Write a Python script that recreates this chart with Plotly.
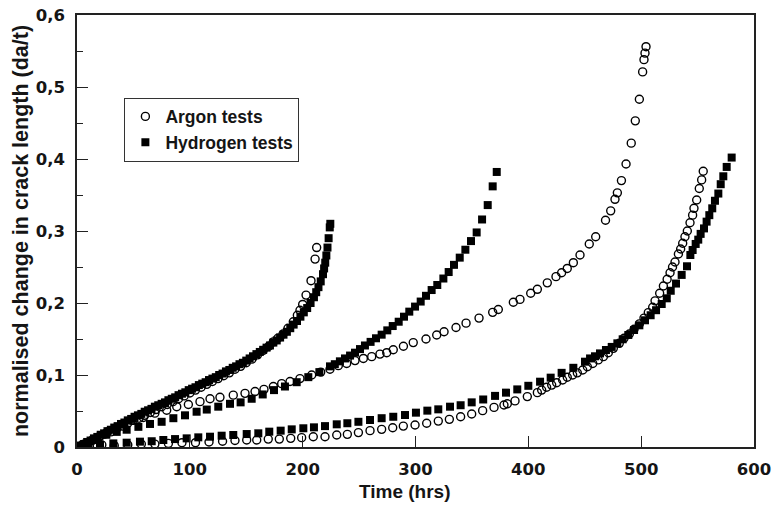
import plotly.graph_objects as go

# ---------------- data ----------------
# Test 1 (fast)
h1_x = [0, 3, 6, 9, 12, 15, 18, 21, 24, 27, 30, 33, 36, 39, 42, 45, 48, 51, 54, 57, 60,
        63, 66, 69, 72, 75, 78, 81, 84, 87, 90, 93, 96, 99, 102, 105, 108, 111, 114, 117,
        120, 123, 126, 129, 132, 135, 138, 141, 144, 147, 150, 153, 156, 159, 162, 165,
        168, 171, 174, 177, 180, 183, 186, 189, 192, 195, 198, 201, 204, 207, 210, 212,
        214, 216, 218, 219, 220, 221, 222, 223, 224, 224.5]
h1_y = [0.000, 0.002, 0.004, 0.007, 0.009, 0.012, 0.014, 0.017, 0.019, 0.022, 0.024,
        0.027, 0.029, 0.032, 0.034, 0.037, 0.039, 0.042, 0.044, 0.046, 0.049, 0.051,
        0.053, 0.056, 0.058, 0.060, 0.062, 0.065, 0.067, 0.069, 0.072, 0.074, 0.076,
        0.079, 0.081, 0.083, 0.086, 0.088, 0.090, 0.093, 0.095, 0.097, 0.100, 0.102,
        0.105, 0.107, 0.110, 0.112, 0.115, 0.117, 0.120, 0.123, 0.126, 0.129, 0.132,
        0.135, 0.138, 0.141, 0.145, 0.148, 0.152, 0.156, 0.160, 0.165, 0.170, 0.175,
        0.181, 0.187, 0.193, 0.200, 0.208, 0.215, 0.222, 0.230, 0.240, 0.248, 0.256,
        0.266, 0.277, 0.290, 0.305, 0.310]

a1_x = [0, 5, 10, 15, 20, 25, 30, 35, 40, 45, 50, 55, 60, 65, 70, 75, 80, 85, 90, 95,
        100, 105, 110, 115, 120, 125, 130, 135, 140, 145, 150, 155, 160, 165, 170, 174,
        178, 182.6, 187, 191.7, 195.3, 197.6, 200, 203, 207.4, 211, 212.4]
a1_y = [0.000, 0.003, 0.006, 0.010, 0.014, 0.018, 0.021, 0.025, 0.029, 0.033, 0.037,
        0.040, 0.044, 0.048, 0.052, 0.056, 0.059, 0.063, 0.067, 0.071, 0.075, 0.079,
        0.083, 0.087, 0.091, 0.095, 0.099, 0.103, 0.108, 0.112, 0.117, 0.122, 0.128,
        0.134, 0.140, 0.146, 0.151, 0.157, 0.165, 0.174, 0.183, 0.190, 0.198, 0.211,
        0.231, 0.261, 0.277]

# Test 2 (middle)
h2_x = [0, 5, 10, 18, 26, 35.2, 44, 54.4, 64.7, 75, 85.4, 95.7, 106, 115, 125.2, 135.6,
        145, 154.8, 164.6, 174.6, 184.3, 194.7, 205, 214.8, 224.2, 228.5, 233, 237.5, 242,
        246.4, 250.8, 255.2, 260.2, 265, 270, 275, 279.8, 285.1, 289.8, 294.5, 299.6,
        304.6, 309.3, 314.3, 319.3, 324.7, 329.4, 334.1, 339.2, 344.2, 349.2, 354.2, 359,
        364, 368.4, 372]
h2_y = [0.000, 0.002, 0.005, 0.011, 0.017, 0.021, 0.024, 0.028, 0.032, 0.035, 0.040,
        0.044, 0.049, 0.052, 0.056, 0.060, 0.062, 0.067, 0.073, 0.079, 0.084, 0.090,
        0.097, 0.104, 0.112, 0.115, 0.119, 0.123, 0.127, 0.131, 0.136, 0.141, 0.146,
        0.151, 0.156, 0.162, 0.168, 0.174, 0.181, 0.188, 0.195, 0.202, 0.210, 0.218,
        0.225, 0.234, 0.243, 0.253, 0.263, 0.274, 0.286, 0.298, 0.316, 0.336, 0.362,
        0.382]

a2_x = [0, 6, 13, 20, 27, 34, 41, 48.5, 58.8, 69, 79.5, 88.4, 98.7, 109, 117.9, 126.7,
        138.5, 148.9, 157.8, 165.7, 174, 181.4, 188.8, 197.6, 208, 216, 224.2, 231.6, 239,
        246.4, 253.8, 261.2, 268.5, 274.5, 280.3, 289.3, 298, 309.3, 318.8, 325.3, 335.9,
        344.8, 356.3, 368.4, 373.4, 386.7, 392.6, 402.1, 408, 416.8, 424.5, 429.5, 434.5,
        439.9, 445.8, 454, 459.7, 468.4, 473, 476.8, 478.9, 482.5, 486.6, 491.2, 494.8,
        498.4, 501.3, 502.5, 503.4, 504.3]
a2_y = [0.000, 0.004, 0.009, 0.015, 0.021, 0.026, 0.032, 0.037, 0.041, 0.047, 0.051,
        0.056, 0.059, 0.063, 0.067, 0.069, 0.072, 0.0745, 0.077, 0.080, 0.084, 0.088,
        0.091, 0.095, 0.100, 0.104, 0.108, 0.113, 0.116, 0.120, 0.123, 0.1255, 0.129,
        0.131, 0.135, 0.140, 0.145, 0.150, 0.1556, 0.160, 0.166, 0.172, 0.179, 0.187,
        0.191, 0.201, 0.205, 0.2135, 0.219, 0.228, 0.2366, 0.242, 0.248, 0.256, 0.2667,
        0.282, 0.292, 0.315, 0.328, 0.344, 0.353, 0.370, 0.393, 0.422, 0.453, 0.483,
        0.521, 0.538, 0.547, 0.556]

# Test 3 (slow)
h3_x = [0, 10, 20.4, 32.2, 44, 55.8, 66.2, 76.5, 86.9, 97.2, 107.5, 117.9, 128.2, 138.5,
        150.4, 160.7, 170.4, 180.5, 190.3, 200.6, 210, 219.8, 230.2, 239.6, 249.4, 259.7,
        270, 280.3, 290.7, 300.4, 310.5, 320.2, 330.6, 340, 349.8, 360, 370.5, 380.2,
        390.2, 400, 410.4, 419.8, 429.5, 439.9, 450.2, 454.7, 459.1, 463.5, 468.8, 473.9,
        478.9, 483.6, 488.6, 493.7, 498.4, 503.4, 508.4, 513.2, 518.2, 522.7, 526.2,
        530.9, 535.9, 540.6, 543.6, 545.6, 548.3, 550.6, 552.7, 555.7, 558, 560.4, 563,
        565.4, 568.4, 570.5, 572.8, 575.8, 580.2]
h3_y = [0.000, 0.001, 0.003, 0.005, 0.006, 0.0074, 0.008, 0.0097, 0.011, 0.012, 0.0134,
        0.0143, 0.0157, 0.0167, 0.018, 0.019, 0.0213, 0.0227, 0.0245, 0.026, 0.0273,
        0.029, 0.0315, 0.033, 0.035, 0.0375, 0.040, 0.042, 0.0444, 0.0477, 0.0505,
        0.0523, 0.056, 0.058, 0.062, 0.066, 0.071, 0.0755, 0.080, 0.085, 0.0907, 0.0963,
        0.103, 0.110, 0.1185, 0.123, 0.126, 0.130, 0.1347, 0.139, 0.144, 0.1496, 0.1556,
        0.1625, 0.169, 0.176, 0.183, 0.190, 0.1986, 0.2065, 0.217, 0.227, 0.239, 0.251,
        0.2667, 0.2736, 0.282, 0.288, 0.296, 0.3036, 0.313, 0.322, 0.3315, 0.342, 0.352,
        0.365, 0.376, 0.389, 0.402]

a3_x = [0, 11, 22, 33, 45, 57, 69, 81, 93, 105, 117, 129, 140, 150.4, 159.3, 169.5,
        179.3, 189.4, 199.1, 209.4, 219.8, 230.2, 239.6, 249.4, 259.7, 270, 279.8, 289.2,
        299.6, 309.9, 320.2, 330, 340, 349.8, 359.5, 369.6, 378.4, 381.4, 388.2, 399.1,
        408, 411.8, 416.2, 420.7, 425.1, 430.4, 434.5, 439.3, 443.4, 448.2, 452.3, 457.1,
        462, 466.5, 470.9, 475.3, 480.6, 484.8, 489.5, 493.7, 498.4, 502.5, 506.3, 510.2,
        512.3, 516.4, 519.7, 523, 525.6, 527.8, 530, 533, 535, 536.8, 538.8, 540.9, 543.3,
        545.6, 546.8, 549.2, 551.5, 553.6, 555]
a3_y = [0.000, 0.001, 0.003, 0.002, 0.003, 0.004, 0.004, 0.005, 0.006, 0.006, 0.007,
        0.008, 0.009, 0.0097, 0.0097, 0.011, 0.011, 0.012, 0.013, 0.0143, 0.0143, 0.0167,
        0.0176, 0.020, 0.0227, 0.0245, 0.0268, 0.029, 0.0306, 0.033, 0.036, 0.0384, 0.042,
        0.0458, 0.0505, 0.055, 0.0583, 0.060, 0.064, 0.070, 0.0755, 0.079, 0.083, 0.086,
        0.0893, 0.093, 0.0968, 0.100, 0.103, 0.107, 0.1115, 0.116, 0.121, 0.1255, 0.131,
        0.137, 0.144, 0.151, 0.157, 0.1635, 0.171, 0.179, 0.1866, 0.194, 0.203, 0.2135,
        0.2236, 0.233, 0.242, 0.250, 0.257, 0.268, 0.275, 0.283, 0.292, 0.300, 0.3115,
        0.322, 0.3315, 0.343, 0.359, 0.371, 0.383]

y_tick_vals = [0, 0.1, 0.2, 0.3, 0.4, 0.5, 0.6]
y_tick_text = ["0", "0,1", "0,2", "0,3", "0,4", "0,5", "0,6"]
x_tick_vals = [0, 100, 200, 300, 400, 500, 600]
x_title = "Time (hrs)"
y_title = "normalised change in crack length (da/t)"

# ---------------- figure ----------------
TXT = "Liberation Sans, Arial, sans-serif"
NUM = "DejaVu Sans, sans-serif"
INK = "#151515"
tick_font = dict(family=NUM, size=16.5, color=INK, weight="bold")

circle = dict(symbol="circle-open", size=8, color="black", line=dict(width=1.4, color="black"))
square = dict(symbol="square", size=8, color="black", line=dict(width=0))

fig = go.Figure()
series = [
    (a1_x, a1_y, "Argon tests", circle, True, "a"),
    (a2_x, a2_y, "Argon tests", circle, False, "a"),
    (a3_x, a3_y, "Argon tests", circle, False, "a"),
    (h1_x, h1_y, "Hydrogen tests", square, True, "h"),
    (h2_x, h2_y, "Hydrogen tests", square, False, "h"),
    (h3_x, h3_y, "Hydrogen tests", square, False, "h"),
]
for xs, ys, name, mk, show, grp in series:
    fig.add_trace(go.Scatter(x=xs, y=ys, mode="markers", name=name, marker=mk,
                             showlegend=show, legendgroup=grp))

axis_common = dict(ticks="inside", ticklen=11, tickwidth=1.3, tickcolor="#222",
                   showline=True, linecolor="#222", linewidth=1.5, mirror=True,
                   showgrid=False, zeroline=False, automargin=False, tickfont=tick_font,
                   ticklabeloverflow="allow")

fig.update_layout(
    width=773, height=508,
    margin=dict(l=77, r=19, t=15, b=61),
    paper_bgcolor="white", plot_bgcolor="white",
    font=dict(family=TXT, size=17, color=INK, weight="bold"),
    showlegend=True,
    legend=dict(x=0.07, y=0.809, xanchor="left", yanchor="top",
                bgcolor="white", bordercolor="#333", borderwidth=1,
                font=dict(family=TXT, size=17.5, color=INK, weight="bold"),
                traceorder="normal", itemwidth=30, tracegroupgap=0),
    xaxis=dict(range=[0, 600], tickvals=x_tick_vals, ticklabelstandoff=6, **axis_common),
    yaxis=dict(range=[0, 0.6], tickvals=y_tick_vals, ticktext=y_tick_text,
               ticklabelstandoff=7,
               minor=dict(dtick=0.05, tick0=0, ticks="inside", ticklen=6, tickwidth=1.2,
                          tickcolor="#222", showgrid=False),
               title=dict(text=y_title, font=dict(family=TXT, size=21.5, color=INK,
                                                 weight="bold"), standoff=1),
               **axis_common),
    annotations=[dict(text=x_title, xref="paper", yref="paper", x=0.4845, y=-0.075,
                      xanchor="center", yanchor="top", showarrow=False,
                      font=dict(family=TXT, size=19, color=INK, weight="bold"))],
)

# remove the page's default 8px body margin so the figure fills the window exactly
fig.write_html("out.html",
               config={"displayModeBar": False},
               post_script="document.body.style.margin='0';document.body.style.padding='0';")
